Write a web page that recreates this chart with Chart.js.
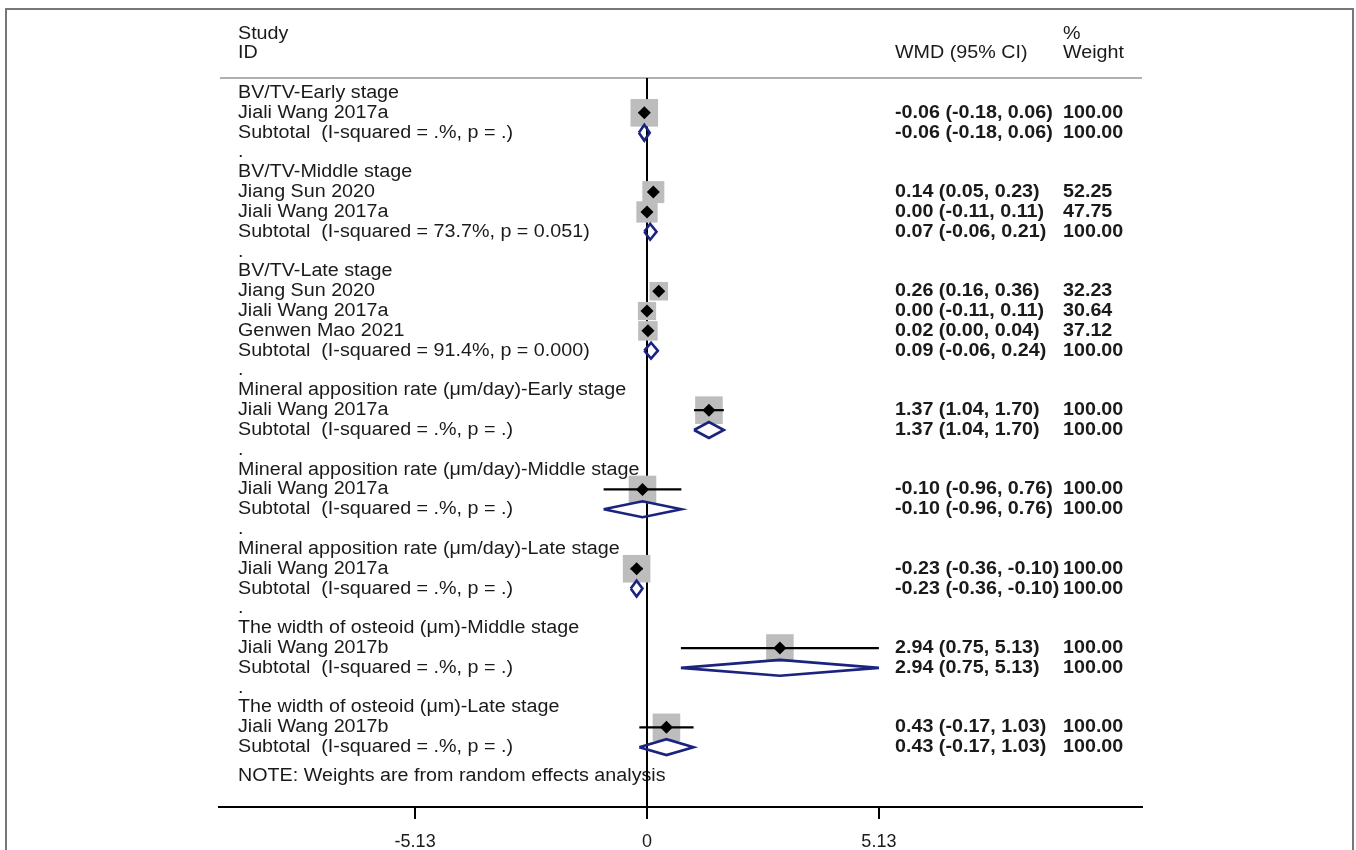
<!DOCTYPE html>
<html>
<head>
<meta charset="utf-8">
<script src="https://cdn.jsdelivr.net/npm/chart.js@4"></script>
<style>
  body { margin: 0; background: #fff; }
  #wrap { width: 1356px; height: 850px; }
</style>
</head>
<body>
<div id="wrap"><canvas id="forest" width="1356" height="850"></canvas></div>
<script>
// Rows of the forest plot, top to bottom
const rowLabels = [
  'BV/TV-Early stage', 'Jiali Wang 2017a', 'Subtotal  (I-squared = .%, p = .)', '.',
  'BV/TV-Middle stage', 'Jiang Sun 2020', 'Jiali Wang 2017a', 'Subtotal  (I-squared = 73.7%, p = 0.051)', '.',
  'BV/TV-Late stage', 'Jiang Sun 2020', 'Jiali Wang 2017a', 'Genwen Mao 2021', 'Subtotal  (I-squared = 91.4%, p = 0.000)', '.',
  'Mineral apposition rate (μm/day)-Early stage', 'Jiali Wang 2017a', 'Subtotal  (I-squared = .%, p = .)', '.',
  'Mineral apposition rate (μm/day)-Middle stage', 'Jiali Wang 2017a', 'Subtotal  (I-squared = .%, p = .)', '.',
  'Mineral apposition rate (μm/day)-Late stage', 'Jiali Wang 2017a', 'Subtotal  (I-squared = .%, p = .)', '.',
  'The width of osteoid (μm)-Middle stage', 'Jiali Wang 2017b', 'Subtotal  (I-squared = .%, p = .)', '.',
  'The width of osteoid (μm)-Late stage', 'Jiali Wang 2017b', 'Subtotal  (I-squared = .%, p = .)'
];
const rowKinds = [
  'head', 'study', 'sub', 'gap',
  'head', 'study', 'study', 'sub', 'gap',
  'head', 'study', 'study', 'study', 'sub', 'gap',
  'head', 'study', 'sub', 'gap',
  'head', 'study', 'sub', 'gap',
  'head', 'study', 'sub', 'gap',
  'head', 'study', 'sub', 'gap',
  'head', 'study', 'sub'
];
const wmd = [
  null, -0.06, -0.06, null,
  null, 0.14, 0.00, 0.07, null,
  null, 0.26, 0.00, 0.02, 0.09, null,
  null, 1.37, 1.37, null,
  null, -0.10, -0.10, null,
  null, -0.23, -0.23, null,
  null, 2.94, 2.94, null,
  null, 0.43, 0.43
];
const ciLow = [
  null, -0.18, -0.18, null,
  null, 0.05, -0.11, -0.06, null,
  null, 0.16, -0.11, 0.00, -0.06, null,
  null, 1.04, 1.04, null,
  null, -0.96, -0.96, null,
  null, -0.36, -0.36, null,
  null, 0.75, 0.75, null,
  null, -0.17, -0.17
];
const ciHigh = [
  null, 0.06, 0.06, null,
  null, 0.23, 0.11, 0.21, null,
  null, 0.36, 0.11, 0.04, 0.24, null,
  null, 1.70, 1.70, null,
  null, 0.76, 0.76, null,
  null, -0.10, -0.10, null,
  null, 5.13, 5.13, null,
  null, 1.03, 1.03
];
const weights = [
  null, 100.00, 100.00, null,
  null, 52.25, 47.75, 100.00, null,
  null, 32.23, 30.64, 37.12, 100.00, null,
  null, 100.00, 100.00, null,
  null, 100.00, 100.00, null,
  null, 100.00, 100.00, null,
  null, 100.00, 100.00, null,
  null, 100.00, 100.00
];
const tickValues = [-5.13, 0, 5.13];
const tickLabels = ['-5.13', '0', '5.13'];
const noteText = 'NOTE: Weights are from random effects analysis';

const FAMILY = '"Liberation Sans", Arial, sans-serif';
const FONT = '18px ' + FAMILY;
const BOLD = 'bold 18px ' + FAMILY;
const STRETCH = 1.095;   // the reference text is a little wide
const NAVY = '#1a237e';
const yMin = -0.757, yMax = 36.02;

const fmt = v => v.toFixed(2);
const studyIdx = rowKinds.map((k, i) => k === 'study' ? i : -1).filter(i => i >= 0);
const subIdx = rowKinds.map((k, i) => k === 'sub' ? i : -1).filter(i => i >= 0);

const datasets = [];

// line of no effect
datasets.push({
  data: [{ x: 0, y: yMin }, { x: 0, y: yMax }],
  showLine: true, borderColor: '#000', borderWidth: 2, pointRadius: 0, order: 6
});

// weight squares
datasets.push({
  data: studyIdx.map(i => ({ x: wmd[i], y: i })),
  pointStyle: 'rect',
  pointRadius: studyIdx.map(i => 19.5 * Math.pow(weights[i] / 100, 0.35)),
  backgroundColor: '#bdbdbd', borderWidth: 0, order: 4
});

// confidence intervals
studyIdx.forEach(i => {
  datasets.push({
    data: [{ x: ciLow[i], y: i }, { x: ciHigh[i], y: i }],
    showLine: true, borderColor: '#000', borderWidth: 2.2, pointRadius: 0, order: 2
  });
});

// point estimates
datasets.push({
  data: studyIdx.map(i => ({ x: wmd[i], y: i })),
  pointStyle: 'rectRot', pointRadius: 6.5,
  backgroundColor: '#000', borderWidth: 0, order: 1
});

// subtotal diamonds
subIdx.forEach(i => {
  const h = 0.4;
  datasets.push({
    data: [
      { x: ciLow[i], y: i }, { x: wmd[i], y: i - h }, { x: ciHigh[i], y: i },
      { x: wmd[i], y: i + h }, { x: ciLow[i], y: i }
    ],
    showLine: true, borderColor: NAVY, borderWidth: 2.6, pointRadius: 0,
    borderJoinStyle: 'miter', fill: false, order: 3
  });
});

function putText(ctx, txt, x, y) {
  ctx.save();
  ctx.translate(x, y);
  ctx.scale(STRETCH, 1);
  ctx.fillText(txt, 0, 0);
  ctx.restore();
}

// frame, header rule and all the text columns
const tablePlugin = {
  id: 'tableText',
  beforeDraw(chart) {
    const ctx = chart.ctx;
    ctx.save();
    ctx.fillStyle = '#fff';
    ctx.fillRect(0, 0, chart.width, chart.height);
    ctx.strokeStyle = '#777';
    ctx.lineWidth = 2;
    ctx.strokeRect(6, 9, 1347, 860);
    ctx.restore();
  },
  beforeDatasetsDraw(chart) {
    const ctx = chart.ctx;
    const y = chart.scales.y;
    ctx.save();
    ctx.textBaseline = 'middle';
    ctx.fillStyle = '#1a1a1a';
    ctx.font = FONT;
    const colStudy = 238, colWmd = 895, colW = 1063;
    putText(ctx, 'Study', colStudy, y.getPixelForValue(-3));
    putText(ctx, 'ID', colStudy, y.getPixelForValue(-2));
    putText(ctx, 'WMD (95% CI)', colWmd, y.getPixelForValue(-2));
    putText(ctx, '%', colW, y.getPixelForValue(-3));
    putText(ctx, 'Weight', colW, y.getPixelForValue(-2));

    ctx.strokeStyle = '#b0b0b0';
    ctx.lineWidth = 2;
    ctx.beginPath();
    ctx.moveTo(220, 78);
    ctx.lineTo(1142, 78);
    ctx.stroke();

    rowLabels.forEach((lab, i) => {
      const py = y.getPixelForValue(i);
      ctx.font = FONT;
      putText(ctx, lab, colStudy, py);
      if (wmd[i] !== null) {
        ctx.font = BOLD;
        putText(ctx, fmt(wmd[i]) + ' (' + fmt(ciLow[i]) + ', ' + fmt(ciHigh[i]) + ')', colWmd, py);
        putText(ctx, fmt(weights[i]), colW, py);
      }
    });
    ctx.font = FONT;
    putText(ctx, noteText, colStudy, y.getPixelForValue(34.45));
    ctx.restore();
  }
};

new Chart(document.getElementById('forest').getContext('2d'), {
  type: 'scatter',
  data: { datasets: datasets },
  options: {
    responsive: false,
    animation: false,
    layout: { padding: { left: 219, right: 214, top: 78, bottom: 0 } },
    plugins: { legend: { display: false }, tooltip: { enabled: false } },
    scales: {
      x: {
        type: 'linear', min: -9.469, max: 10.951,
        afterBuildTicks: s => { s.ticks = tickValues.map(v => ({ value: v })); },
        afterFit: s => { s.height = 43; },
        ticks: {
          autoSkip: false, maxRotation: 0, padding: 12,
          color: '#1a1a1a', font: { family: FAMILY, size: 18 },
          callback: (v, i) => tickLabels[i]
        },
        grid: { display: true, drawOnChartArea: false, drawTicks: true, tickLength: 12, color: '#000', lineWidth: 2 },
        border: { display: true, color: '#000', width: 2 }
      },
      y: { type: 'linear', reverse: true, min: yMin, max: yMax, display: false }
    }
  },
  plugins: [tablePlugin]
});
</script>
</body>
</html>
